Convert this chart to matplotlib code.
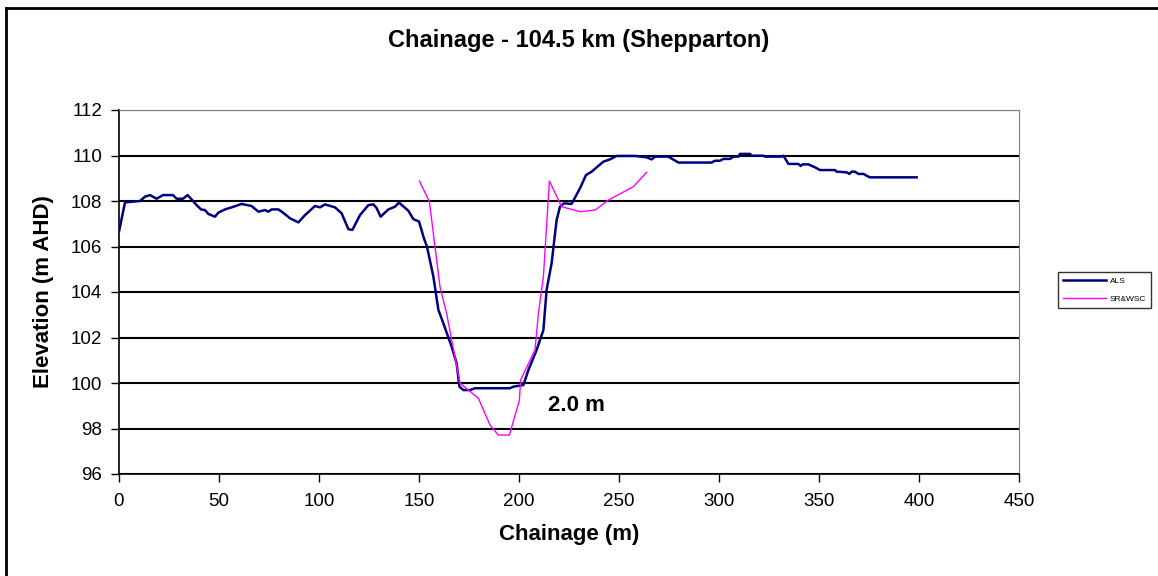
import matplotlib
matplotlib.use('Agg')
import matplotlib.pyplot as plt
from matplotlib.lines import Line2D

# ALS profile (chainage m, elevation m AHD)
als_x = [0, 3, 10.5, 13, 15.5, 18.8, 22, 27, 28.8, 32,
         34.3, 36.3, 38.8, 41, 43, 44.7, 48, 49.7, 53, 56.3,
         61.3, 66.3, 69.7, 73, 74.7, 76.3, 79.7, 82, 85.5, 89.7,
         93, 98, 100.5, 103, 108, 111.3, 114.7, 116.7, 120.5, 124.7,
         127.2, 128.8, 130.8, 134.7, 138, 140, 144.7, 147.2, 150, 152.5,
         154, 157.2, 159.7, 162.2, 166.3, 168.8, 170.2, 172.2, 175.5, 178,
         195.5, 197.2, 202.2, 204.7, 208.8, 212.2, 213.8, 216.3, 218.8, 220.5,
         222.5, 226.3, 230.5, 233.5, 236.3, 242.2, 245.5, 248.8, 258, 263.8,
         266.3, 268, 274.7, 279.7, 296.3, 298, 300.5, 302.2, 305.5, 307.2,
         309.7, 310.5, 315.5, 316.3, 322.2, 323, 331.3, 332.2, 333, 334.7,
         339.7, 340.8, 341.8, 344.7, 348, 350.5, 358, 358.8, 363.8, 365.2,
         366.3, 368, 369.7, 372.3, 373.8, 375.5, 398.8]
als_z = [106.65, 107.94, 108.0, 108.19, 108.26, 108.1, 108.26, 108.26, 108.1, 108.1,
         108.26, 108.07, 107.82, 107.63, 107.6, 107.43, 107.31, 107.49, 107.63, 107.72,
         107.87, 107.78, 107.53, 107.6, 107.53, 107.63, 107.63, 107.49, 107.24, 107.06,
         107.38, 107.78, 107.72, 107.85, 107.72, 107.46, 106.76, 106.73, 107.38, 107.82,
         107.85, 107.69, 107.31, 107.63, 107.75, 107.93, 107.57, 107.2, 107.1, 106.35,
         105.99, 104.67, 103.21, 102.62, 101.6, 100.87, 99.84, 99.69, 99.69, 99.77,
         99.77, 99.84, 99.91, 100.57, 101.45, 102.33, 104.09, 105.26, 107.16, 107.75,
         107.9, 107.87, 108.56, 109.14, 109.29, 109.73, 109.83, 109.98, 109.98, 109.92,
         109.83, 109.95, 109.95, 109.69, 109.69, 109.77, 109.77, 109.85, 109.85, 109.95,
         109.95, 110.07, 110.07, 109.99, 109.99, 109.95, 109.95, 109.99, 109.88, 109.63,
         109.63, 109.54, 109.61, 109.61, 109.48, 109.36, 109.36, 109.29, 109.26, 109.19,
         109.29, 109.29, 109.19, 109.19, 109.11, 109.04, 109.04]

# SR&WSC survey
sr_x = [150.2, 155.2, 160.5, 163.8, 170.5, 179.7, 185.5, 189.7, 195.2, 200.2,
        200.8, 208, 209.7, 212.2, 215.2, 221.3, 230.5, 238, 244.7, 257.2, 263.8]
sr_z = [108.88, 107.97, 104.23, 103.06, 99.99, 99.33, 98.15, 97.71, 97.71, 99.25,
        100.13, 101.45, 103.06, 104.67, 108.88, 107.75, 107.53, 107.6, 108.04, 108.63, 109.26]

plt.rcParams['font.family'] = ['Liberation Sans', 'DejaVu Sans']

fig = plt.figure(figsize=(11.58, 5.76), dpi=100)
ax = fig.add_axes([119 / 1158, 1 - 474 / 576, 900 / 1158, 364 / 576])

ax.plot(als_x, als_z, color='#000080', lw=1.8, label='ALS', zorder=3)
ax.plot(sr_x, sr_z, color='#ff00ff', lw=1.0, label='SR&WSC', zorder=3)

ax.set_xlim(0, 450)
ax.set_ylim(96, 112)
ax.set_xticks(range(0, 451, 50))
ax.set_yticks(range(96, 113, 2))
ax.yaxis.grid(True, color='black', lw=1.5)
ax.set_axisbelow(True)
ax.tick_params(labelsize=13.5, direction='out', length=6, width=1, colors='black')
ax.tick_params(axis='y', pad=6)
ax.tick_params(axis='x', pad=8)
for s in ['top', 'right']:
    ax.spines[s].set_color('#808080')
ax.spines['left'].set_linewidth(1.2)
ax.spines['bottom'].set_linewidth(1.2)

ax.set_xlabel('Chainage (m)', fontsize=16, fontweight='bold', labelpad=10)
ax.set_ylabel('Elevation (m AHD)', fontsize=16, fontweight='bold', labelpad=12)

ax.text(228.5, 99, '2.0 m', fontsize=16, fontweight='bold', ha='center', va='center')

fig.text(0.5, 1 - 40 / 576, 'Chainage - 104.5 km (Shepparton)',
         fontsize=17, fontweight='bold', ha='center', va='center')

leg = fig.legend(loc='upper left', bbox_to_anchor=(1058 / 1158, 1 - 272 / 576),
                 fontsize=6, frameon=True, fancybox=False, edgecolor='black',
                 handlelength=5.2, handletextpad=0.4, borderpad=0.6,
                 labelspacing=1.2, borderaxespad=0)
leg.get_frame().set_linewidth(1.0)

# outer chart frame
fig.add_artist(Line2D([6 / 1158, 6 / 1158], [0, 1 - 8 / 576], color='black', lw=2))
fig.add_artist(Line2D([6 / 1158, 1], [1 - 8 / 576, 1 - 8 / 576], color='black', lw=2))

fig.savefig('out.png', dpi=100)
